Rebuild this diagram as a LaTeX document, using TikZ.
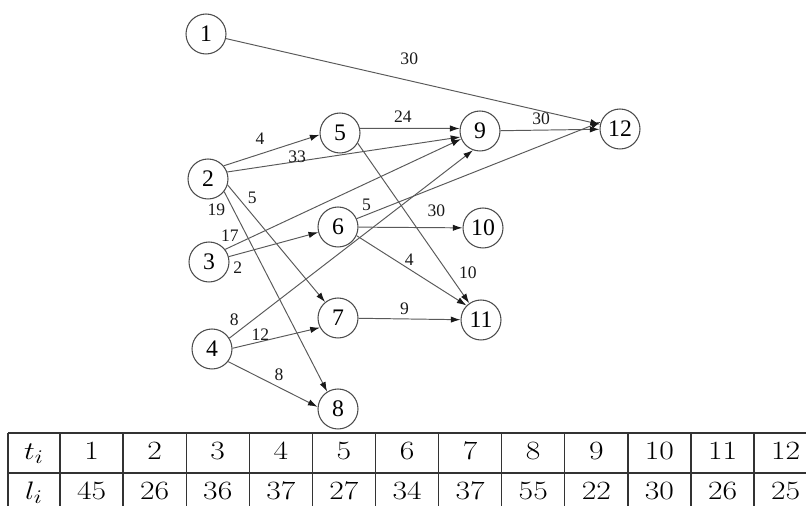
\documentclass[tikz,border=0pt]{standalone}
\usepackage{graphicx}
\usepackage{fontspec}
\newfontfamily\graphfont{Liberation Serif}
\usetikzlibrary{arrows.meta, positioning}

\newcommand{\cellval}[1]{\scalebox{1.2}[1]{#1}}

\begin{document}
\begin{tikzpicture}[
        x=0.02cm, y=-0.02cm,
        vert/.style={circle, draw=black!70, line width=0.6pt, minimum size=0.8cm, inner sep=0pt, font=\graphfont\fontsize{13.5}{13.5}\selectfont},
        edge/.style={-{Latex[length=5.5pt,width=3.6pt,black!90]}, draw=black!65, line width=0.55pt},
        wt/.style={inner sep=0pt, text=black!90, font=\graphfont\fontsize{10}{10}\selectfont},
        cell/.style={anchor=base, font=\fontsize{15}{18}\selectfont},
        rule/.style={draw=black!80, line width=0.7pt}
    ]
    \clip (0,0) rectangle (806,506);

    % Vertices
    \node[vert] (n1) at (206,34) {1};
    \node[vert] (n2) at (208,179) {2};
    \node[vert] (n3) at (209,262) {3};
    \node[vert] (n4) at (212,349) {4};
    \node[vert] (n5) at (340,133) {5};
    \node[vert] (n6) at (338,227) {6};
    \node[vert] (n7) at (338,318) {7};
    \node[vert] (n8) at (338,409) {8};
    \node[vert] (n9) at (480,131) {9};
    \node[vert] (n10) at (483,228) {10};
    \node[vert] (n11) at (481,320) {11};
    \node[vert] (n12) at (620,129) {12};

    % Weighted arcs
    \draw[edge] (n1) -- node[wt, pos=.49, above=9pt] {30} (n12);
    \draw[edge] (n2.40) -- node[wt, pos=.38, above=5.1pt] {4} (n5.185);
    \draw[edge] (n2.20) -- node[wt, pos=.3, above=-1pt] {33} (n9.197);
    \draw[edge] (n2.-17) -- node[wt, pos=.11, right=5.2pt] {5} (n7.129);
    \draw[edge] (n2.-38) -- node[wt, pos=.09, left=4.4pt] {19} (n8.122);
    \draw[edge] (n3.38) -- node[wt, pos=.02, above=2.8pt] {17} (n9.203);
    \draw[edge] (n3) -- node[wt, pos=.1, below=4.3pt] {2} (n6);
    \draw[edge] (n4.32) -- node[wt, pos=.02, above=4.8pt] {8} (n9.250);
    \draw[edge] (n4.2) -- node[wt, pos=.32, above=0.3pt] {12} (n7.208);
    \draw[edge] (n4.-38) -- node[wt, pos=.57, above=3.4pt] {8} (n8.174);
    \draw[edge] (n5.13) -- node[wt, pos=.43, above=2.9pt] {24} (n9.173);
    \draw[edge] (n5.-30) -- node[wt, pos=.81, right=6pt] {10} (n11.125);
    \draw[edge] (n6.24) -- node[wt, pos=.04, above=2.2pt] {5} (n12.160);
    \draw[edge] (n6) -- node[wt, pos=.75, above=5.8pt] {30} (n10);
    \draw[edge] (n6.-25) -- node[wt, pos=.48, above=1.6pt] {4} (n11.135);
    \draw[edge] (n7) -- node[wt, pos=.45, above=2.4pt] {9} (n11);
    \draw[edge] (n9) -- node[wt, pos=.41, above=3.1pt] {30} (n12);

    % Table
    \draw[rule] (8,433) -- (820,433) (8,473) -- (820,473);
    \draw[rule] (8,433) -- (8,513) (60,433) -- (60,513) (123.1,433) -- (123.1,513)
        (186.2,433) -- (186.2,513) (249.3,433) -- (249.3,513) (312.4,433) -- (312.4,513)
        (375.5,433) -- (375.5,513) (438.6,433) -- (438.6,513) (501.7,433) -- (501.7,513)
        (564.8,433) -- (564.8,513) (627.9,433) -- (627.9,513) (691,433) -- (691,513)
        (754.1,433) -- (754.1,513);

    \node[cell] (t0) at (34,460) {\cellval{$t_i$}};
    \node[cell] (t1) at (91.55,460) {\cellval{1}};
    \node[cell] (t2) at (154.65,460) {\cellval{2}};
    \node[cell] (t3) at (217.75,460) {\cellval{3}};
    \node[cell] (t4) at (280.85,460) {\cellval{4}};
    \node[cell] (t5) at (343.95,460) {\cellval{5}};
    \node[cell] (t6) at (407.05,460) {\cellval{6}};
    \node[cell] (t7) at (470.15,460) {\cellval{7}};
    \node[cell] (t8) at (533.25,460) {\cellval{8}};
    \node[cell] (t9) at (596.35,460) {\cellval{9}};
    \node[cell] (t10) at (659.45,460) {\cellval{10}};
    \node[cell] (t11) at (722.55,460) {\cellval{11}};
    \node[cell] (t12) at (785.65,460) {\cellval{12}};

    \node[cell] (l0) at (34,500) {\cellval{$l_i$}};
    \node[cell] (l1) at (91.55,500) {\cellval{45}};
    \node[cell] (l2) at (154.65,500) {\cellval{26}};
    \node[cell] (l3) at (217.75,500) {\cellval{36}};
    \node[cell] (l4) at (280.85,500) {\cellval{37}};
    \node[cell] (l5) at (343.95,500) {\cellval{27}};
    \node[cell] (l6) at (407.05,500) {\cellval{34}};
    \node[cell] (l7) at (470.15,500) {\cellval{37}};
    \node[cell] (l8) at (533.25,500) {\cellval{55}};
    \node[cell] (l9) at (596.35,500) {\cellval{22}};
    \node[cell] (l10) at (659.45,500) {\cellval{30}};
    \node[cell] (l11) at (722.55,500) {\cellval{26}};
    \node[cell] (l12) at (785.65,500) {\cellval{25}};
\end{tikzpicture}
\end{document}
